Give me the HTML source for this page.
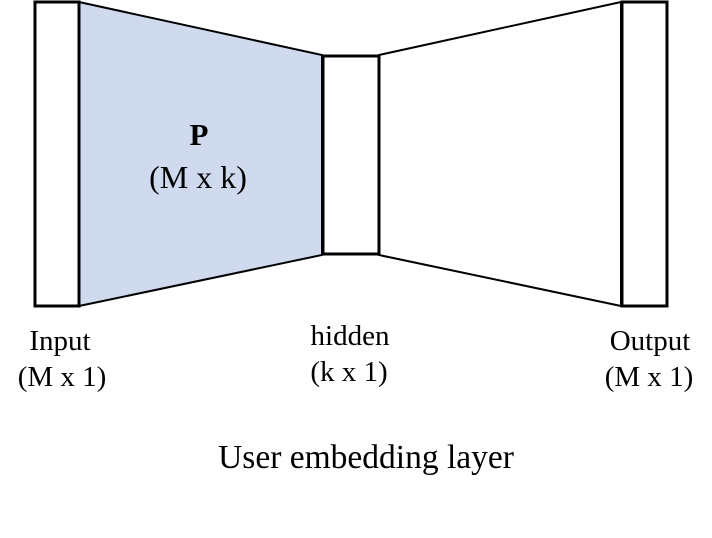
<!DOCTYPE html>
<html><head><style>
html,body{margin:0;padding:0;background:#fff;width:712px;height:538px;overflow:hidden}
svg text{font-family:"Liberation Serif",serif;fill:#000}
</style></head><body>
<svg width="712" height="538" viewBox="0 0 712 538" xmlns="http://www.w3.org/2000/svg">
<polygon points="79,2 322,55 322,255 79,306" fill="#cfdaee" stroke="#000" stroke-width="2"/>
<polygon points="379,55 621,2 621,306 379,255" fill="#fff" stroke="#000" stroke-width="2"/>
<rect x="35" y="2" width="44" height="304" fill="#fff" stroke="#000" stroke-width="3"/>
<rect x="323" y="56" width="56" height="198" fill="#fff" stroke="#000" stroke-width="3"/>
<rect x="622" y="2" width="45" height="304" fill="#fff" stroke="#000" stroke-width="3"/>
<text x="199" y="145" font-size="31" font-weight="bold" text-anchor="middle">P</text>
<text x="198" y="188" font-size="32" text-anchor="middle">(M x k)</text>
<text x="60" y="350" font-size="29" text-anchor="middle">Input</text>
<text x="62" y="386" font-size="29" text-anchor="middle">(M x 1)</text>
<text x="350" y="345" font-size="29" text-anchor="middle">hidden</text>
<text x="349" y="381" font-size="29" text-anchor="middle">(k x 1)</text>
<text x="650" y="350" font-size="29" text-anchor="middle">Output</text>
<text x="649" y="386" font-size="29" text-anchor="middle">(M x 1)</text>
<text x="366" y="468" font-size="33.5" text-anchor="middle">User embedding layer</text>
</svg>
</body></html>
